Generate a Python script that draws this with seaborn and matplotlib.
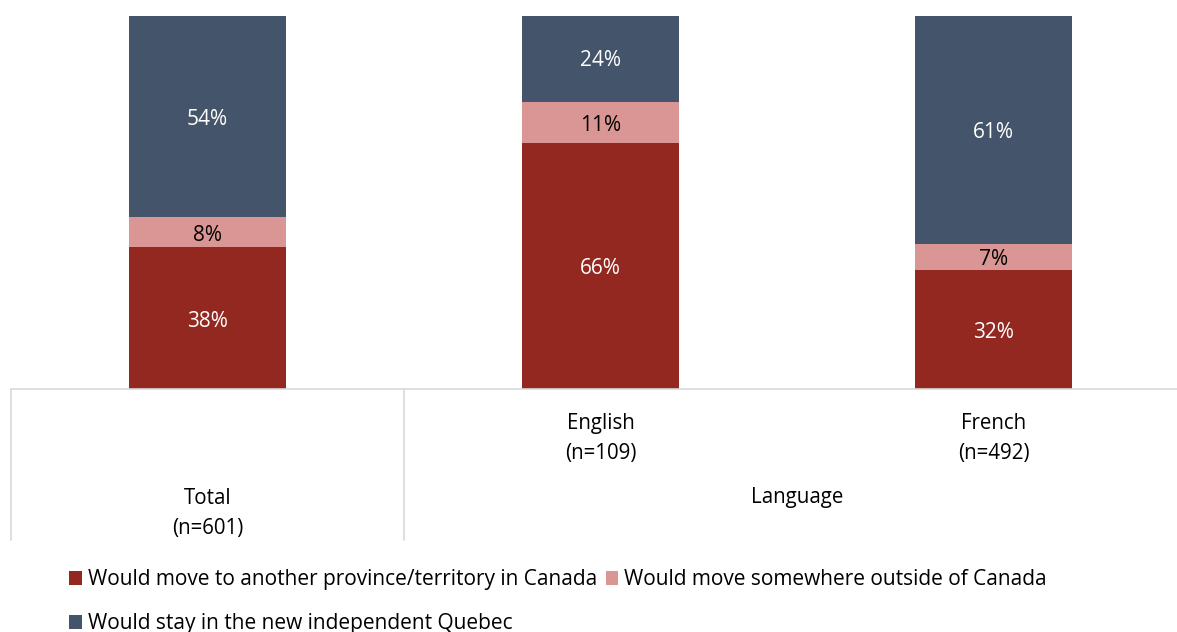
import numpy as np
import pandas as pd
import seaborn as sns
import matplotlib.pyplot as plt
from matplotlib.patches import Patch

sns.set_style("white")
plt.rcParams["font.family"] = ["Open Sans", "DejaVu Sans"]
plt.rcParams["text.color"] = "black"

# -----------------------------
groups = ["Total", "English", "French"]
sizes = ["(n=601)", "(n=109)", "(n=492)"]
series = [
    "Would move to another province/territory in Canada",
    "Would move somewhere outside of Canada",
    "Would stay in the new independent Quebec",
]
move_canada = [38, 66, 32]
move_outside = [8, 11, 7]
stay_quebec = [54, 24, 61]
colors = ["#922820", "#DA9694", "#44546A"]
label_colors = ["white", "black", "white"]

df = pd.DataFrame({"group": groups,
                   series[0]: move_canada,
                   series[1]: move_outside,
                   series[2]: stay_quebec})

fig = plt.figure(figsize=(11.77, 6.32), dpi=100)
ax = fig.add_axes([11 / 1177, 1 - 389 / 632, 1179 / 1177, 373 / 632])

# stacked bars: draw cumulative heights from the top layer down
cum = df[series].cumsum(axis=1)
for s, c in reversed(list(zip(series, colors))):
    sns.barplot(x=df["group"], y=cum[s], color=c, width=0.4,
                saturation=1, linewidth=0, edgecolor=c, ax=ax)

# value labels
for i in range(len(groups)):
    base = 0
    for s, tc in zip(series, label_colors):
        v = df.loc[i, s]
        ax.text(i, base + v / 2 - 0.8, f"{v}%", ha="center", va="center",
                color=tc, fontsize=15)
        base += v

ax.set_xlim(-0.5, 2.5)
ax.set_ylim(0, 100)
ax.set_xlabel("")
ax.set_ylabel("")
ax.set_xticks([])
ax.set_yticks([])
for sp in ["top", "right", "left"]:
    ax.spines[sp].set_visible(False)
ax.spines["bottom"].set_color("#d9d9d9")
ax.spines["bottom"].set_linewidth(1.2)

# multi-level category axis
grid_col = "#d9d9d9"
for xv in [-0.5, 0.5]:
    ax.plot([xv, xv], [0, -40.5], color=grid_col, lw=1.2, clip_on=False)

for i in [1, 2]:
    ax.text(i, -13.3, f"{groups[i]}\n{sizes[i]}", ha="center", va="center",
            fontsize=14.8, linespacing=1.55)
ax.text(0, -33.3, f"{groups[0]}\n{sizes[0]}", ha="center", va="center",
        fontsize=14.8, linespacing=1.55)
ax.text(1.5, -29.2, "Language", ha="center", va="center", fontsize=14.8)

# legend
handles = [Patch(facecolor=c, edgecolor="none") for c in colors]
order = [0, 2, 1]
fig.legend([handles[k] for k in order], [series[k] for k in order],
           loc="upper left", bbox_to_anchor=(61 / 1177, 1 - 561 / 632),
           ncol=2, frameon=False, fontsize=15, handlelength=0.6,
           handleheight=0.6, handletextpad=0.3, columnspacing=0.4,
           labelspacing=1.1, borderaxespad=0)

fig.savefig("out.png", dpi=100)
